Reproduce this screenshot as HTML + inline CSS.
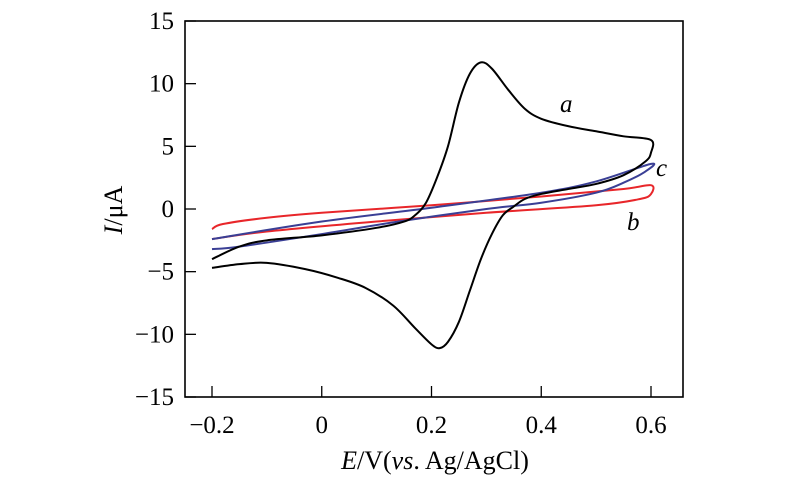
<!DOCTYPE html>
<html><head><meta charset="utf-8"><style>
html,body{margin:0;padding:0;background:#fff;}
svg{display:block;font-family:"Liberation Serif",serif;}
</style></head><body>
<svg id="chart" width="800" height="493" viewBox="0 0 800 493">
<rect x="185" y="21" width="498" height="376" fill="none" stroke="#000" stroke-width="1.6"/>
<g id="xt"></g>
<g id="yt"></g>
<g id="series"></g>
<text x="122" y="210" font-size="26" text-anchor="middle" transform="rotate(-90 122 210)"><tspan font-style="italic">I</tspan>/μA</text>
<text x="435" y="469" font-size="26" text-anchor="middle"><tspan font-style="italic">E</tspan>/V(<tspan font-style="italic">vs</tspan>. Ag/AgCl)</text>
<text x="560" y="112" font-size="25" font-style="italic">a</text>
<text x="656" y="176" font-size="25" font-style="italic">c</text>
<text x="627" y="230" font-size="25" font-style="italic">b</text>
</svg>
<script>
const xTicks=[-0.2,0,0.2,0.4,0.6];
const xTickLabels=["−0.2","0","0.2","0.4","0.6"];
const yTicks=[15,10,5,0,-5,-10,-15];
const yTickLabels=["15","10","5","0","−5","−10","−15"];
const aE=[-0.2,-0.15,-0.1,0,0.1,0.15,0.17,0.19,0.21,0.23,0.25,0.27,0.29,0.31,0.34,0.37,0.4,0.45,0.5,0.55,0.6,0.6,0.59,0.55,0.5,0.45,0.4,0.37,0.35,0.33,0.31,0.29,0.27,0.25,0.23,0.215,0.2,0.17,0.13,0.08,0.03,-0.03,-0.1,-0.15,-0.2];
const aI=[-4.0,-3.0,-2.5,-2.1,-1.5,-1.0,-0.5,0.5,2.5,5,8.5,10.8,11.7,11.2,9.5,8.0,7.2,6.6,6.2,5.8,5.5,4.5,3.8,2.7,2.0,1.6,1.2,0.8,0.2,-0.5,-2.0,-4.0,-6.5,-9,-10.6,-11.1,-10.8,-9.5,-7.7,-6.3,-5.5,-4.8,-4.3,-4.4,-4.7];
const bE=[-0.2,-0.18,-0.1,0,0.2,0.4,0.55,0.6,0.6,0.58,0.5,0.3,0.1,-0.1,-0.2];
const bI=[-1.6,-1.2,-0.7,-0.3,0.3,1.0,1.6,1.9,1.2,0.8,0.3,-0.3,-1.0,-1.8,-2.4];
const cE=[-0.2,0,0.2,0.4,0.5,0.6,0.59,0.55,0.5,0.4,0.3,0.14,0,-0.15,-0.2];
const cI=[-2.4,-1.0,0.1,1.3,2.2,3.6,3.0,2.1,1.3,0.5,0.0,-1.0,-2.0,-3.0,-3.2];
const NS="http://www.w3.org/2000/svg";
function xs(v){return 321.75+v*548.75;}
function ys(v){return 209-v*12.533;}
const xt=document.getElementById('xt'),yt=document.getElementById('yt'),sg=document.getElementById('series');
xTicks.forEach((v,i)=>{
 const l=document.createElementNS(NS,'line');
 
 
 l.setAttribute('x1',xs(v));l.setAttribute('x2',xs(v));l.setAttribute('y1',397);l.setAttribute('y2',386);
 l.setAttribute('stroke','#000');l.setAttribute('stroke-width','1.3');xt.appendChild(l);
 const t=document.createElementNS(NS,'text');
 
 
 t.setAttribute('x',xs(v));t.setAttribute('y',433);t.setAttribute('font-size','25');t.setAttribute('text-anchor','middle');
 t.textContent=xTickLabels[i];xt.appendChild(t);
});
yTicks.forEach((v,i)=>{
 const l=document.createElementNS(NS,'line');
 
 
 l.setAttribute('x1',185);l.setAttribute('x2',196);l.setAttribute('y1',ys(v));l.setAttribute('y2',ys(v));
 l.setAttribute('stroke','#000');l.setAttribute('stroke-width','1.3');yt.appendChild(l);
 const t=document.createElementNS(NS,'text');
 
 
 t.setAttribute('x',174);t.setAttribute('y',ys(v)+8);t.setAttribute('font-size','25');t.setAttribute('text-anchor','end');
 t.textContent=yTickLabels[i];yt.appendChild(t);
});
function draw(E,I,color,name){
 const p=E.map((e,i)=>[xs(e),ys(I[i])]);
 let d='M'+p[0][0]+','+p[0][1];
 for(let i=0;i<p.length-1;i++){
  const p0=p[Math.max(0,i-1)],p1=p[i],p2=p[i+1],p3=p[Math.min(p.length-1,i+2)];
  const c1=[p1[0]+(p2[0]-p0[0])/6,p1[1]+(p2[1]-p0[1])/6];
  const c2=[p2[0]-(p3[0]-p1[0])/6,p2[1]-(p3[1]-p1[1])/6];
  d+=' C'+c1[0]+','+c1[1]+' '+c2[0]+','+c2[1]+' '+p2[0]+','+p2[1];
 }
 const path=document.createElementNS(NS,'path');
 
 
 path.setAttribute('d',d);path.setAttribute('fill','none');path.setAttribute('stroke',color);path.setAttribute('stroke-width','2');path.setAttribute('stroke-linejoin','round');
 sg.appendChild(path);
}
draw(bE,bI,'#e8262a','series-b');
draw(cE,cI,'#3a3f95','series-c');
draw(aE,aI,'#000','series-a');
</script>
</body></html>
